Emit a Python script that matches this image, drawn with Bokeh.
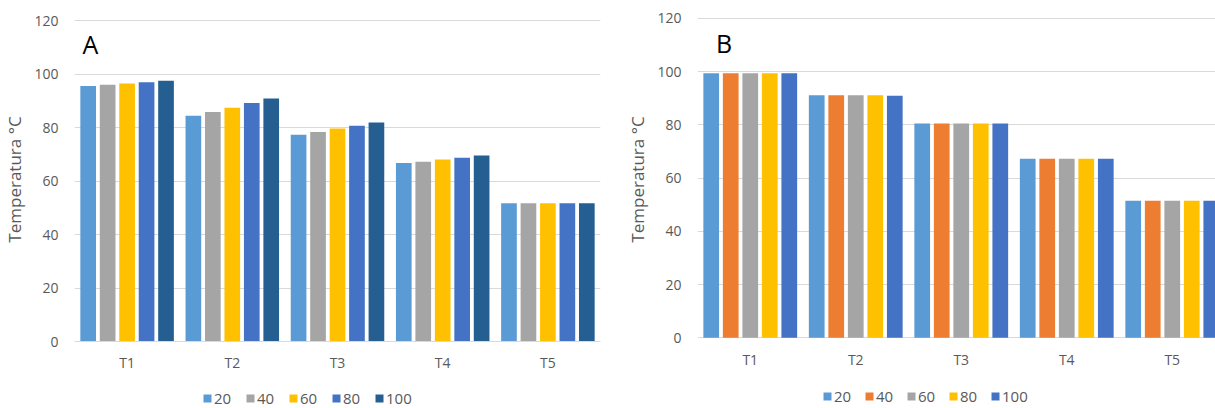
from bokeh.plotting import figure
from bokeh.layouts import row, column
from bokeh.models import ColumnDataSource, Range1d, FixedTicker, Legend, LegendItem, Label
from bokeh.embed import file_html
from bokeh.resources import INLINE

categories = ["T1", "T2", "T3", "T4", "T5"]
series = ["20", "40", "60", "80", "100"]
y_ticks = [0, 20, 40, 60, 80, 100, 120]

# Panel A
a_20 = [95.7, 84.5, 77.4, 66.8, 51.8]
a_40 = [96.1, 85.9, 78.4, 67.3, 51.8]
a_60 = [96.6, 87.5, 79.7, 68.1, 51.8]
a_80 = [97.1, 89.3, 80.8, 68.8, 51.8]
a_100 = [97.6, 91.0, 82.0, 69.6, 51.8]
colors_a = ["#5B9BD5", "#A5A5A5", "#FFC000", "#4472C4", "#255E91"]

# Panel B
b_20 = [99.4, 91.1, 80.5, 67.2, 51.5]
b_40 = [99.4, 91.1, 80.5, 67.2, 51.5]
b_60 = [99.4, 91.1, 80.5, 67.2, 51.5]
b_80 = [99.4, 91.1, 80.5, 67.2, 51.5]
b_100 = [99.4, 90.9, 80.5, 67.2, 51.5]
colors_b = ["#5B9BD5", "#ED7D31", "#A5A5A5", "#FFC000", "#4472C4"]

FONT = "Open Sans"
TXT = "#595959"
GRID = "#D9D9D9"
MAIN_H = 386
LEG_H = 22
PITCH = 0.185
BAR_W = 0.149


def bar_x(k, n):
    return [i + 0.5 + (k - (n - 1) / 2) * PITCH for i in range(len(categories))]


def make_panel(values, colors, letter, x_end, y_rng, width, mbl, mbr,
               letter_pos, x_standoff, show_axis_line):
    p = figure(width=width, height=MAIN_H, output_backend="svg", toolbar_location=None,
               x_range=Range1d(0, x_end), y_range=Range1d(*y_rng),
               min_border_left=mbl, min_border_right=mbr,
               min_border_top=17, min_border_bottom=MAIN_H - 17 - 324)
    p.outline_line_color = None
    n = len(values)
    for k, (vals, col) in enumerate(zip(values, colors)):
        src = ColumnDataSource(dict(x=bar_x(k, n), top=vals))
        p.vbar(x="x", top="top", bottom=0, width=BAR_W, source=src,
               fill_color=col, line_color=None)

    p.xaxis.ticker = FixedTicker(ticks=[i + 0.5 for i in range(len(categories))])
    p.xaxis.major_label_overrides = {i + 0.5: c for i, c in enumerate(categories)}
    p.yaxis.ticker = FixedTicker(ticks=y_ticks)
    p.xgrid.visible = False
    p.ygrid.grid_line_color = GRID
    p.ygrid.grid_line_width = 1
    for ax in (p.xaxis, p.yaxis):
        ax.major_tick_line_color = None
        ax.minor_tick_line_color = None
        ax.major_tick_out = 0
        ax.major_tick_in = 0
        ax.major_label_text_font = FONT
        ax.major_label_text_color = TXT
        ax.major_label_text_font_size = "14px"
    p.xaxis.axis_line_color = GRID if show_axis_line else None
    p.yaxis.axis_line_color = None
    p.xaxis.major_label_standoff = x_standoff
    p.yaxis.major_label_standoff = 16
    p.yaxis.axis_label = "Temperatura °C"
    p.yaxis.axis_label_text_font = FONT
    p.yaxis.axis_label_text_font_style = "normal"
    p.yaxis.axis_label_text_font_size = "17px"
    p.yaxis.axis_label_text_color = TXT
    p.yaxis.axis_label_standoff = 5

    lab = Label(x=letter_pos[0], y=letter_pos[1], text=letter, text_font=FONT,
                text_font_size="25px", text_color="black", text_baseline="alphabetic")
    p.add_layout(lab)
    return p


def make_legend(values, colors, width, loc, spacing):
    # legend strip: the swatch renderers sit outside this strip's visible range
    q = figure(width=width, height=LEG_H, output_backend="svg", toolbar_location=None,
               x_range=Range1d(0, 5), y_range=Range1d(1000, 1001),
               min_border_left=0, min_border_right=0, min_border_top=0, min_border_bottom=0)
    q.axis.visible = False
    q.grid.visible = False
    q.outline_line_color = None
    items = []
    n = len(values)
    for k, (vals, col, name) in enumerate(zip(values, colors, series)):
        r = q.vbar(x=bar_x(k, n), top=vals, width=BAR_W, fill_color=col, line_color=None)
        items.append(LegendItem(label=name, renderers=[r]))
    legend = Legend(items=items, orientation="horizontal", location=loc,
                    padding=0, margin=0, spacing=spacing, label_standoff=2,
                    glyph_width=10, glyph_height=10, label_height=16,
                    label_text_font=FONT, label_text_font_size="15px",
                    label_text_color=TXT, border_line_color=None,
                    background_fill_alpha=0)
    q.add_layout(legend, "center")
    return q


vals_a = [a_20, a_40, a_60, a_80, a_100]
vals_b = [b_20, b_40, b_60, b_80, b_100]

pa = make_panel(vals_a, colors_a, "A", 5.0, (0, 121.3), 608, 74, 8,
                (0.075, 111.2), 11, True)
pb = make_panel(vals_b, colors_b, "B", 518 / 105.5, (-1.4, 120.3), 607, 89, 0,
                (0.175, 110.6), 8, False)
la = make_legend(vals_a, colors_a, 608, (202, 0), 11)
lb = make_legend(vals_b, colors_b, 607, (214, 2), 10)

layout = column(row(pa, pb), row(la, lb))
open("out.html", "w").write(file_html(layout, INLINE))
